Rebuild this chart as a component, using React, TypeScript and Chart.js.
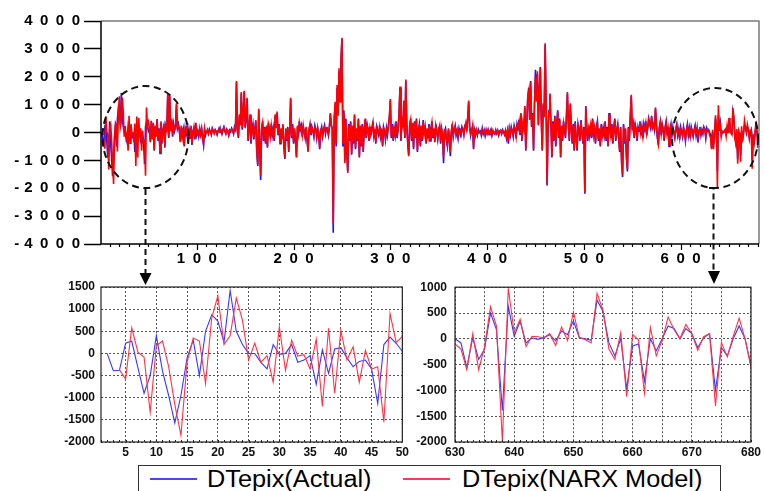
import React, { useEffect, useRef } from "react";
import { Chart, registerables } from "chart.js";
Chart.register(...registerables);

const FONT = '"Liberation Sans", Arial, Helvetica, sans-serif';

// ---------- DATA ----------
// zoom window 1: t = 2..50
const win1Start = 2;
const win1Actual = [0, -390, -380, 230, 280, -320, -900, -500, 400, -400, -950, -1570, -950, -100, 300, -500, 500, 870, 730, 250, 1420, 500, 200, 0, 0, -200, -350, 200, -20, 0, 200, -200, -150, -50, -700, 80, -450, 100, 130, -100, -300, -180, -150, -350, -1130, 200, 370, 230, 50];
const win1Model = [null, null, -370, -580, 580, 30, -80, -1330, 170, 280, -300, -1150, -1850, -200, 350, 280, -680, 800, 1300, 200, 400, 1250, 750, -150, 230, -200, -50, -650, 600, -380, 300, -60, -30, -350, 320, -1200, 570, -900, 520, -150, 150, -650, 70, -350, -300, -1550, 900, 250, 380];

// middle stretch: t = 51..629
const midStart = 51;
const midActual = [
  120, -350, 420, -200, 300, -650, 200, -100, 480, -300,
  150, -750, 350, -400, 100, 250, -550, 300, 50, 1350,
  -200, 1300, 100, 450, -150, 300, 50, 200, 1000, 150,
  300, 50, -300, 200, -100, 100, -500, 150, -50, 250,
  -350, 100, -150, 200, -450, 50, 150, -250, 350, -100,
  50, -150, 100, -50, 150, -200, -450, 100, -100, 30,
  80, -30, 120, 20, -60, 150, 50, -20, 100, 30,
  -80, 60, 150, 0, 80, -50, 100, 200, 40, -30,
  120, 50, -100, 80, 20, 150, 60, -50, 200, 100,
  1800, 150, -200, 600, 300, 1400, 100, 700, 1450, 200,
  500, 1200, -300, 200, 600, -400, 100, 300, -250, 150,
  400, -700, -1200, 800, -500, -1700, 100, 400, -300, 200,
  -400, 200, -550, 350, 100, -200, 300, -100, 150, -300,
  600, 200, 700, -100, 300, -400, 100, -200, 250, -500,
  -950, 100, -300, 200, -700, 50, 1200, -200, 300, -400,
  100, -300, -870, 200, -100, 400, 100, 250, -150, 200,
  50, -200, 150, -300, -650, 100, 300, -100, 200, 50,
  -150, 250, 100, -200, 150, -100, -600, 50, 200, -150,
  100, 250, -50, 150, 100, -100, 200, 650, 300, 100,
  -3600, 500, 1000, -500, 1600, 700, 2200, 1200, 2500, 3350,
  -500, 800, -1000, 500, -700, -1400, 300, -300, 400, -800,
  200, -400, 600, -600, 100, -300, 500, -900, 200, -500,
  300, -700, 100, 450, -200, 300, 100, -300, 200, -100,
  150, 350, -200, 100, -400, 200, 50, -100, 250, -150,
  100, -500, 200, 50, -250, 150, -100, 250, 500, 1150,
  -200, 300, -300, 150, -100, 400, -200, 100, 650, 1600,
  -300, 500, 200, 1100, -200, 1850, 300, -400, -800, 200,
  500, -300, 300, -600, 400, -200, 500, -700, 100, 300,
  -500, 200, -300, 450, -100, 250, -400, 100, -200, 300,
  -300, 150, 400, -200, 100, -350, 300, 0, -250, 150,
  200, -400, 100, -100, -1100, 50, 150, -300, -500, 100,
  -200, -850, 0, 300, -150, 100, 250, -100, 50, -200,
  150, 0, -100, 200, 100, -50, 250, 300, 100, 500,
  1100, 200, -100, 100, 200, -600, 100, -50, 50, -100,
  100, 0, 50, -100, 150, -50, 80, -120, 60, -30,
  100, -80, 40, 120, -100, 50, 0, -60, 90, -40,
  60, -100, 30, 80, -50, 100, 20, -80, 50, -200,
  40, -400, 100, -100, 200, 50, -150, 250, 100, -200,
  300, 150, 450, -100, 650, -300, 400, 100, 900, -650,
  300, 1200, 1600, 500, 1850, 200, 700, -650, 1000, 2250,
  1200, 2100, 300, 1500, 2350, 500, -650, 1000, 600, 3150,
  1000, -1900, 200, 800, 1350, 300, -900, 400, -300, 600,
  -500, 300, 800, -200, 500, -900, 200, -300, 400, 100,
  -200, 600, 1400, 300, -300, 1000, 200, -400, 300, -650,
  400, -200, -650, 300, 100, -300, 450, 0, -400, 200,
  -2200, 950, 100, -300, 200, -100, 300, -200, 500, -150,
  100, -400, 200, 400, -300, 100, -500, 300, -200, 150,
  -100, 400, -300, 200, -500, 700, 100, -200, 300, -400,
  200, 500, -300, 100, 300, -200, -700, 200, -1100, -1600,
  300, -400, 100, -900, -1400, 200, -300, 600, 1300, 100,
  400, -200, 300, 100, -300, 200, 50, 400, -100, 200,
  -200, 300, 100, 400, -100, 200, 500, 300, 150, 600,
  200, 300, 100, 850, 300, -200, -450, 200, 400, -100,
  300, 100, -300, 200, 400, -100, 200, -500, 100, 300,
  -100, 200, 0, -200, 150, 300, -100, 100, -250, 200,
  50, -150, 200, 0, -300, 100, 300, -100, 150, -200,
  200, 50, -150, 100, 250, -100, 150, -350, 50, 200,
  -100, 100, -50, 200, 100, -200, 150, 50, 100,
];
const midModel = [
  150, -300, 380, -250, 350, -600, 250, -150, 450, -250,
  100, -700, 400, -350, 50, 300, -500, 250, 100, 1400,
  -150, 1350, 50, 500, -100, 250, 100, 150, 1050, 200,
  250, 100, -350, 250, -150, 150, -450, 100, 0, 200,
  -300, 150, -200, 250, -400, 0, 200, -200, 300, -50,
  0, -100, 150, -100, 100, -150, -400, 150, -50, 0,
  100, -50, 80, 50, -80, 120, 80, -40, 80, 50,
  -50, 40, 120, 30, 50, -30, 80, 180, 60, -50,
  100, 70, -80, 60, 40, 120, 80, -30, 180, 120,
  1850, 100, -150, 650, 250, 1450, 150, 650, 1500, 150,
  550, 1250, -250, 150, 650, -350, 150, 250, -200, 100,
  450, -650, -1150, 850, -450, -1550, 150, 350, -250, 150,
  -350, 250, -500, 300, 150, -150, 250, -50, 100, -250,
  650, 150, 750, -50, 250, -350, 150, -250, 300, -450,
  -900, 150, -250, 150, -650, 100, 1250, -150, 250, -350,
  150, -250, -900, 250, -50, 350, 150, 200, -100, 250,
  0, -150, 200, -250, -700, 150, 250, -50, 150, 100,
  -100, 200, 150, -150, 100, -50, -550, 100, 150, -100,
  150, 200, 0, 100, 150, -50, 150, 700, 250, 150,
  -3300, 400, 1100, -400, 1700, 600, 2300, 1100, 2600, 3400,
  -400, 700, -1100, 450, -650, -1450, 250, -250, 350, -750,
  250, -350, 650, -550, 150, -250, 450, -850, 250, -450,
  250, -650, 150, 500, -150, 250, 150, -250, 150, -50,
  100, 400, -150, 50, -350, 250, 0, -50, 200, -100,
  150, -450, 150, 100, -200, 100, -50, 200, 550, 1200,
  -150, 250, -250, 100, -50, 350, -150, 150, 600, 1650,
  -250, 450, 250, 1150, -150, 1900, 250, -350, -850, 250,
  450, -250, 350, -550, 350, -150, 450, -650, 150, 250,
  -450, 250, -250, 400, -50, 200, -350, 150, -150, 250,
  -250, 100, 350, -150, 150, -300, 250, 50, -200, 100,
  250, -350, 150, -50, -900, 100, 100, -250, -450, 150,
  -150, -700, 50, 250, -100, 150, 200, -50, 100, -150,
  100, 50, -50, 150, 150, -100, 200, 350, 50, 550,
  1150, 150, -50, 50, 250, -550, 150, -100, 100, -50,
  50, 50, 0, -50, 100, 0, 50, -80, 100, -50,
  80, -50, 60, 100, -80, 80, -30, -40, 60, -20,
  80, -70, 50, 60, -30, 80, 40, -60, 80, -150,
  60, -300, 150, -50, 150, 100, -100, 200, 150, -150,
  250, 200, 400, -50, 700, -250, 350, 150, 950, -600,
  250, 1300, 1500, 450, 1800, 250, 650, -600, 1050, 2000,
  1100, 2200, 250, 1450, 2300, 450, -600, 1050, 550, 3200,
  950, -1850, 250, 750, 1400, 250, -850, 350, -250, 550,
  -450, 350, 750, -150, 450, -850, 250, -250, 350, 150,
  -150, 550, 1450, 250, -250, 1050, 150, -350, 250, -600,
  350, -150, -600, 250, 150, -250, 400, 50, -350, 150,
  -2150, 900, 150, -250, 150, -50, 250, -150, 450, -100,
  150, -350, 150, 350, -250, 150, -450, 250, -150, 100,
  -50, 350, -250, 150, -450, 650, 150, -150, 250, -350,
  150, 450, -250, 150, 250, -150, -650, 150, -1000, -1500,
  250, -350, 150, -850, -1300, 150, -250, 550, 1350, 150,
  350, -150, 250, 150, -250, 150, 100, 350, -50, 150,
  -150, 250, 150, 350, -50, 150, 450, 250, 200, 550,
  150, 250, 150, 900, 250, -150, -400, 150, 350, -50,
  250, 150, -250, 150, 350, -50, 150, -450, 150, 250,
  -50, 150, 50, -150, 100, 250, -50, 50, -200, 150,
  100, -100, 150, 50, -250, 50, 250, -50, 100, -150,
  150, 100, -100, 50, 200, -50, 100, -200, 100, 150,
  -50, 50, 0, 150, 150, -150, 100, 100, 50,
];

// zoom window 2: t = 630..680
const win2Start = 630;
const win2Actual = [0, -80, -560, 20, -400, -200, 500, 180, -1390, 630, 50, 340, -80, 20, -10, 20, 80, -40, 150, 80, 350, 20, 0, -30, 750, 530, -80, -330, 0, -970, -140, -100, -820, 0, -230, 0, 250, 200, 0, 200, 100, -170, 20, 100, -1000, -170, -330, 0, 250, 0, -530];
const win2Model = [-100, -200, -600, 100, -600, -150, 620, 250, -1990, 980, 120, 380, -150, 50, 40, 20, 100, -130, 230, -30, 520, 30, -20, -80, 880, 550, -200, -400, 120, -1120, 80, -20, -1050, 220, -330, -30, 420, 180, 0, 280, 100, -220, 40, 100, -1300, -70, -350, 50, 400, 0, -550];

const seriesNames = ["DTepix(Actual)", "DTepix(NARX Model)"];

// tick values
const mainYTicks = [-4000, -3000, -2000, -1000, 0, 1000, 2000, 3000, 4000];
const mainXTicks = [100, 200, 300, 400, 500, 600];
const mainXMinorStep = 10;
const win1XTicks = [5, 10, 15, 20, 25, 30, 35, 40, 45, 50];
const win1YTicks = [-2000, -1500, -1000, -500, 0, 500, 1000, 1500];
const win2XTicks = [630, 635, 640, 645, 650, 655, 660, 665, 670, 675, 680];
const win2YTicks = [-2000, -1500, -1000, -500, 0, 500, 1000];

// ---------- helpers ----------
type Pt = { x: number; y: number | null };
const toPoints = (start: number, arr: (number | null)[]): Pt[] =>
  arr.map((v, i) => ({ x: start + i, y: v }));

const spaced = (v: number) => {
  const s = String(Math.abs(v)).split("").join("\u2002");
  return v < 0 ? "-\u2004" + s : s;
};

const mainFrame = {
  id: "mainFrame",
  afterDraw(chart: any) {
    const { ctx, chartArea: a, scales } = chart;
    const x = scales.x;
    ctx.save();
    ctx.lineWidth = 1.5;
    ctx.strokeStyle = "#7a7a7a";
    ctx.beginPath();
    ctx.moveTo(a.left, a.top);
    ctx.lineTo(a.right, a.top);
    ctx.lineTo(a.right, a.bottom);
    ctx.stroke();
    ctx.strokeStyle = "#000";
    ctx.beginPath();
    ctx.moveTo(a.left, a.top);
    ctx.lineTo(a.left, a.bottom);
    ctx.lineTo(a.right, a.bottom);
    ctx.stroke();
    ctx.lineWidth = 1.2;
    ctx.beginPath();
    for (let v = mainXMinorStep; v <= x.max; v += mainXMinorStep) {
      const px = Math.round(x.getPixelForValue(v)) + 0.5;
      const len = v % 100 === 0 ? 6 : 3;
      ctx.moveTo(px, a.bottom);
      ctx.lineTo(px, a.bottom + len);
    }
    ctx.stroke();
    ctx.restore();
  },
};

const subFrame = {
  id: "subFrame",
  afterDraw(chart: any) {
    const { ctx, chartArea: a, scales } = chart;
    const x = scales.x;
    ctx.save();
    ctx.strokeStyle = "#222";
    ctx.lineWidth = 1.2;
    ctx.strokeRect(a.left, a.top, a.right - a.left, a.bottom - a.top);
    ctx.lineWidth = 1;
    ctx.beginPath();
    for (let v = Math.ceil(x.min); v <= x.max; v += 1) {
      const px = Math.round(x.getPixelForValue(v)) + 0.5;
      ctx.moveTo(px, a.bottom);
      ctx.lineTo(px, a.bottom - 2);
    }
    ctx.stroke();
    ctx.restore();
  },
};

function mainConfig(H: number): any {
  const actual = toPoints(win1Start, [...win1Actual, ...midActual, ...win2Actual]);
  const model = toPoints(win1Start, [...win1Model, ...midModel, ...win2Model]);
  return {
    type: "line",
    data: {
      datasets: [
        { label: seriesNames[1], data: model, borderColor: "#ff0000", borderWidth: 1.6, pointRadius: 0, order: 0 },
        { label: seriesNames[0], data: actual, borderColor: "#1414ff", borderWidth: 1.6, pointRadius: 0, order: 1 },
      ],
    },
    options: {
      animation: false,
      responsive: false,
      maintainAspectRatio: false,
      layout: { padding: { top: 21, right: 5, left: 0, bottom: 0 } },
      plugins: { legend: { display: false }, tooltip: { enabled: false } },
      scales: {
        x: {
          type: "linear",
          min: 1,
          max: 681,
          afterBuildTicks: (s: any) => { s.ticks = mainXTicks.map((v) => ({ value: v })); },
          afterFit: (s: any) => { s.height = H - 244; },
          grid: { display: false, drawTicks: false },
          border: { display: false },
          ticks: {
            callback: (v: number) => spaced(v),
            font: { family: FONT, size: 15, weight: "bold" },
            color: "#000",
            padding: 6,
            maxRotation: 0,
            autoSkip: false,
          },
        },
        y: {
          type: "linear",
          min: -4000,
          max: 4000,
          afterBuildTicks: (s: any) => { s.ticks = mainYTicks.map((v) => ({ value: v })); },
          afterFit: (s: any) => { s.width = 101; },
          grid: { drawOnChartArea: false, drawTicks: true, tickLength: 17, tickColor: "#000", tickWidth: 1.5 },
          border: { display: false },
          ticks: {
            callback: (v: number) => spaced(v),
            font: { family: FONT, size: 15, weight: "bold" },
            color: "#000",
            padding: 4,
          },
        },
      },
    },
    plugins: [mainFrame],
  };
}

function subConfig(p: {
  actual: Pt[]; model: Pt[]; xMin: number; xMax: number; xTicks: number[]; labelEvery: number;
  yTicks: number[]; yWidth: number; padTop: number; padRight: number; xHeight: number; yPad: number;
}): any {
  return {
    type: "line",
    data: {
      datasets: [
        { label: seriesNames[1], data: p.model, borderColor: "#ff3348", borderWidth: 1.1, pointRadius: 0, order: 0 },
        { label: seriesNames[0], data: p.actual, borderColor: "#3838ff", borderWidth: 1.1, pointRadius: 0, order: 1 },
      ],
    },
    options: {
      animation: false,
      responsive: false,
      maintainAspectRatio: false,
      layout: { padding: { top: p.padTop, right: p.padRight, left: 0, bottom: 0 } },
      plugins: { legend: { display: false }, tooltip: { enabled: false } },
      scales: {
        x: {
          type: "linear",
          min: p.xMin,
          max: p.xMax,
          afterBuildTicks: (s: any) => { s.ticks = p.xTicks.map((v) => ({ value: v })); },
          afterFit: (s: any) => { s.height = p.xHeight; },
          grid: { color: "#555", lineWidth: 1, drawTicks: false },
          border: { display: false, dash: [2, 2] },
          ticks: {
            callback: (v: number) => (v % p.labelEvery === 0 ? String(v) : ""),
            font: { family: FONT, size: 12, weight: "bold" },
            color: "#111",
            padding: 3,
            maxRotation: 0,
            autoSkip: false,
          },
        },
        y: {
          type: "linear",
          min: p.yTicks[0],
          max: p.yTicks[p.yTicks.length - 1],
          afterBuildTicks: (s: any) => { s.ticks = p.yTicks.map((v) => ({ value: v })); },
          afterFit: (s: any) => { s.width = p.yWidth; },
          grid: { color: "#555", lineWidth: 1, drawTicks: false },
          border: { display: false, dash: [2, 2] },
          ticks: {
            callback: (v: number) => String(v),
            font: { family: FONT, size: 12, weight: "bold" },
            color: "#111",
            padding: p.yPad,
          },
        },
      },
    },
    plugins: [subFrame],
  };
}

function ChartCanvas(props: { make: () => any; left: number; top: number; width: number; height: number }) {
  const ref = useRef<HTMLCanvasElement>(null);
  useEffect(() => {
    const chart = new Chart(ref.current as HTMLCanvasElement, props.make());
    return () => chart.destroy();
  }, []);
  return (
    <canvas
      ref={ref}
      width={props.width}
      height={props.height}
      style={{ position: "absolute", left: props.left, top: props.top, width: props.width, height: props.height }}
    />
  );
}

export default function App() {
  const MAIN_H = 275;
  return (
    <div style={{ position: "absolute", left: 0, top: 0, width: 764, height: 491, overflow: "hidden", background: "#fff" }}>
      <ChartCanvas make={() => mainConfig(MAIN_H)} left={0} top={0} width={764} height={MAIN_H} />
      <ChartCanvas
        make={() =>
          subConfig({
            actual: toPoints(win1Start, win1Actual),
            model: toPoints(win1Start, win1Model),
            xMin: 1, xMax: 50, xTicks: win1XTicks, labelEvery: 5,
            yTicks: win1YTicks, yWidth: 61, padTop: 15, padRight: 8, xHeight: 24, yPad: 6,
          })
        }
        left={40} top={272} width={372} height={194}
      />
      <ChartCanvas
        make={() =>
          subConfig({
            actual: toPoints(win2Start, win2Actual),
            model: toPoints(win2Start, win2Model),
            xMin: 630, xMax: 680, xTicks: win2XTicks, labelEvery: 10,
            yTicks: win2YTicks, yWidth: 43, padTop: 14, padRight: 10, xHeight: 24, yPad: 8,
          })
        }
        left={412} top={272} width={352} height={194}
      />
      <svg width={764} height={491} style={{ position: "absolute", left: 0, top: 0, pointerEvents: "none" }}>
        <ellipse cx={145.5} cy={137} rx={43} ry={51} fill="none" stroke="#111" strokeWidth={2} strokeDasharray="7 4.5" />
        <ellipse cx={715} cy={138} rx={43} ry={50} fill="none" stroke="#111" strokeWidth={2} strokeDasharray="7 4.5" />
        <path d="M145.5 189 V273" stroke="#111" strokeWidth={2} strokeDasharray="6 4" fill="none" />
        <polygon points="139.5,273 151.5,273 145.5,285" fill="#000" />
        <path d="M709 188 H713.5 V271" stroke="#111" strokeWidth={2} strokeDasharray="6 4" fill="none" />
        <polygon points="708,271 720,271 714,284" fill="#000" />
      </svg>
      <div style={{ position: "absolute", left: 138, top: 465, width: 583, height: 40, border: "1.5px solid #333", boxSizing: "border-box", background: "#fff" }} />
      <div style={{ position: "absolute", left: 150, top: 478, width: 47, height: 2, background: "#4646ff" }} />
      <span style={{ position: "absolute", left: 207, top: 467.5, fontFamily: FONT, fontSize: 23, lineHeight: "23px", whiteSpace: "nowrap", color: "#000", transform: "scaleX(1.1)", transformOrigin: "left top" }}>
        {seriesNames[0]}
      </span>
      <div style={{ position: "absolute", left: 403, top: 478, width: 47, height: 2, background: "#ff3a55" }} />
      <span style={{ position: "absolute", left: 462, top: 467.5, fontFamily: FONT, fontSize: 23, lineHeight: "23px", whiteSpace: "nowrap", color: "#000", transform: "scaleX(1.1)", transformOrigin: "left top" }}>
        {seriesNames[1]}
      </span>
    </div>
  );
}
